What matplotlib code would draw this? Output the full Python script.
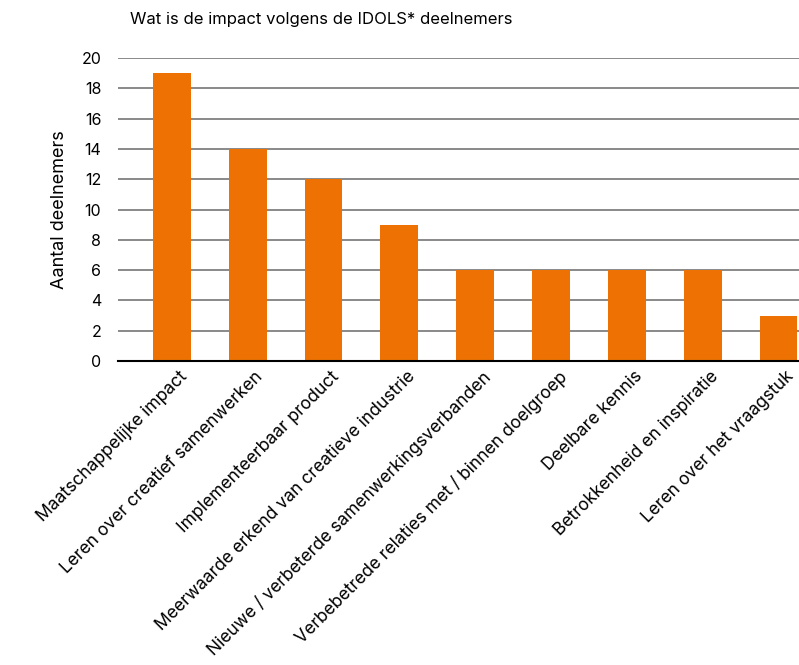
import matplotlib.pyplot as plt
from matplotlib.transforms import ScaledTranslation

# data
categories = [
    "Maatschappelijke impact",
    "Leren over creatief samenwerken",
    "Implementeerbaar product",
    "Meerwaarde erkend van creatieve industrie",
    "Nieuwe / verbeterde samenwerkingsverbanden",
    "Verbebetrede relaties met / binnen doelgroep",
    "Deelbare kennis",
    "Betrokkenheid en inspiratie",
    "Leren over het vraagstuk",
]
counts = [19, 14, 12, 9, 6, 6, 6, 6, 3]
y_ticks = [0, 2, 4, 6, 8, 10, 12, 14, 16, 18, 20]

plt.rcParams['font.family'] = ['Inter', 'DejaVu Sans']

fig = plt.figure(figsize=(7.99, 6.65), dpi=100)
ax = fig.add_axes([0.1477, 0.457, 0.8523, 0.4558])

x = list(range(len(categories)))
ax.bar(x, counts, width=0.5, color='#ED7203', zorder=3)

ax.set_ylim(0, 20)
ax.set_xlim(-0.71, 8.27)
ax.set_yticks(y_ticks)
ax.yaxis.grid(True, color='#808080', linewidth=1.3, zorder=0)
ax.set_axisbelow(True)

for side in ['top', 'right', 'left']:
    ax.spines[side].set_visible(False)
ax.spines['bottom'].set_color('black')
ax.spines['bottom'].set_linewidth(1.5)
ax.spines['bottom'].set_zorder(4)

ax.tick_params(axis='y', length=0, labelsize=11.5, pad=12)
ax.tick_params(axis='x', length=0, labelsize=12.6, pad=5)

ax.set_xticks(x)
ax.set_xticklabels(categories, rotation=45, ha='right', rotation_mode='anchor')
offset = ScaledTranslation(0.07, 0, fig.dpi_scale_trans)
for lbl in ax.get_xticklabels():
    lbl.set_transform(lbl.get_transform() + offset)

ax.set_ylabel("Aantal deelnemers", fontsize=13, labelpad=10)
fig.text(0.163, 0.97, "Wat is de impact volgens de IDOLS* deelnemers",
         fontsize=12, ha='left', va='center')

fig.savefig('out.png', dpi=100)
